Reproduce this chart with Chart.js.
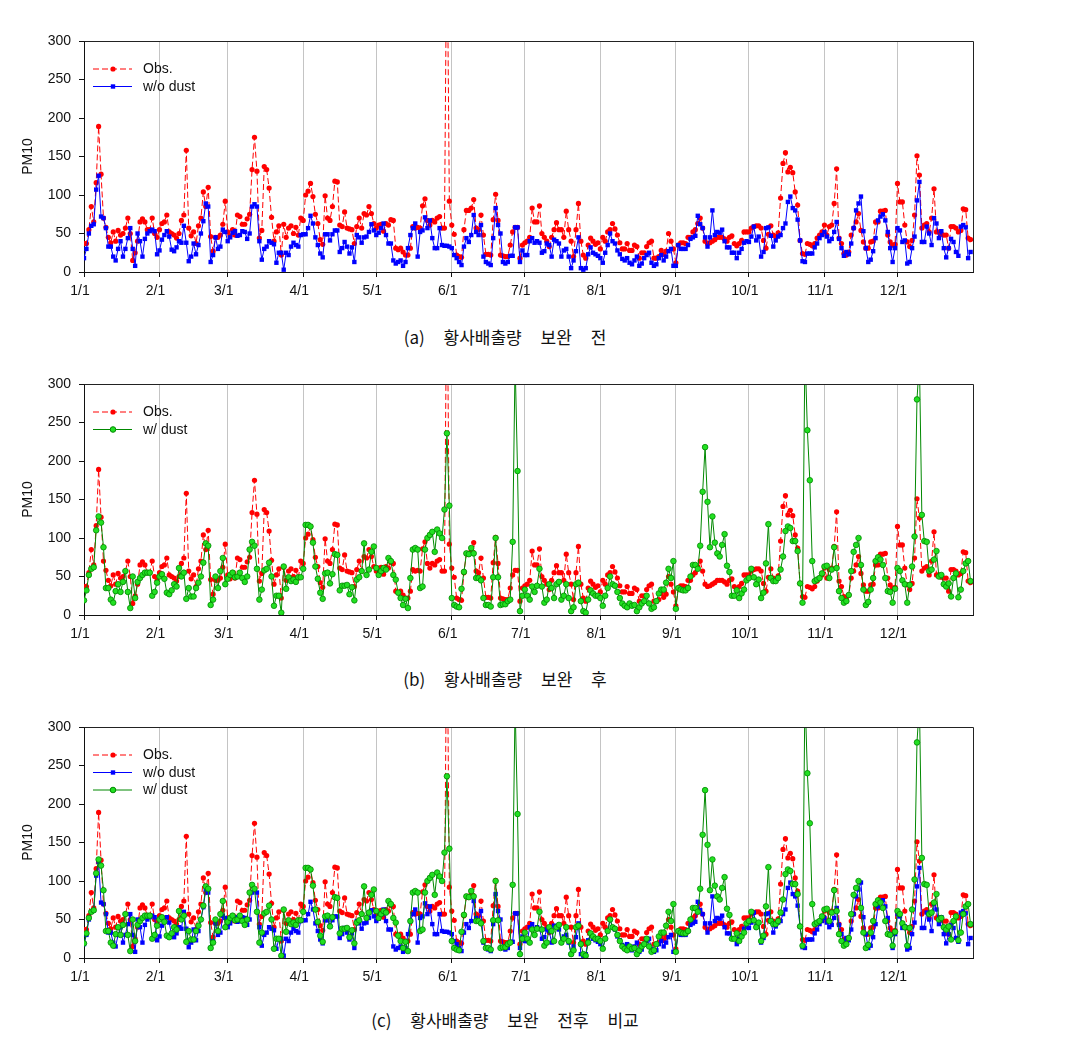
<!DOCTYPE html>
<html>
<head>
<meta charset="utf-8">
<script src="https://cdn.jsdelivr.net/npm/chart.js@4.4.1/dist/chart.umd.min.js"></script>
<style>
  body { margin: 0; background: #fff; width: 1070px; height: 1042px; position: relative; overflow: hidden; }
  canvas { position: absolute; left: 0; }
  .cap {
    position: absolute; left: 0; width: 1010px; text-align: center;
    font-family: "Noto Sans CJK KR", sans-serif; font-size: 17px; line-height: 20px;
    word-spacing: 15px; color: #111;
  }
</style>
</head>
<body>
<canvas id="chartA" width="1070" height="291" style="top:21px"></canvas>
<div class="cap" style="top:327px">(a) 황사배출량 보완 전</div>
<canvas id="chartB" width="1070" height="291" style="top:364px"></canvas>
<div class="cap" style="top:669px">(b) 황사배출량 보완 후</div>
<canvas id="chartC" width="1070" height="291" style="top:707px"></canvas>
<div class="cap" style="top:1010px">(c) 황사배출량 보완 전후 비교</div>

<script>
// x axis: day of year, ticks on the first of each month
const monthStarts = [0, 31, 59, 90, 120, 151, 181, 212, 243, 273, 304, 334];
const monthLabels = ['1/1', '2/1', '3/1', '4/1', '5/1', '6/1', '7/1', '8/1', '9/1', '10/1', '11/1', '12/1'];

// daily PM10, observed
const obs = [
  37,37,55,85,65,116,189,127,70,58,45,38,52,40,54,48,50,57,70,50,15,25,40,65,69,65,55,55,70,50,45,           // Jan
  55,63,65,74,52,50,48,44,50,67,74,158,57,47,52,37,60,70,104,85,110,46,27,45,45,48,62,92,                     // Feb
  52,47,55,48,74,72,62,62,69,75,133,175,131,44,54,137,133,109,71,40,52,60,22,62,45,57,60,50,58,48,70,         // Mar
  67,100,105,115,98,75,63,42,36,99,70,67,85,118,117,61,59,78,57,56,55,37,59,70,57,76,74,85,76,63,             // Apr
  57,61,62,53,63,61,68,67,31,29,31,26,22,22,31,59,57,58,57,86,95,67,61,67,65,70,72,57,57,470,92,              // May
  61,49,22,20,19,55,80,80,83,94,57,55,74,48,23,23,22,68,101,67,22,21,20,20,35,52,58,58,18,35,                 // Jun
  38,40,45,83,65,65,86,50,45,40,33,45,55,64,55,55,45,79,55,40,20,55,89,40,22,18,35,44,40,36,38,               // Jul
  30,45,40,52,55,63,56,48,38,30,30,37,28,28,35,33,18,25,25,33,38,40,18,18,20,28,23,27,50,40,30,               // Aug
  12,35,38,38,37,45,45,52,55,63,70,57,40,37,38,40,42,45,45,45,43,40,45,47,37,34,37,41,52,52,                  // Sep
  52,57,59,60,60,57,41,31,49,60,48,46,51,96,141,155,130,136,129,104,87,41,24,23,37,36,34,37,44,48,52,         // Oct
  61,48,59,61,89,134,44,37,24,22,26,48,57,65,76,54,39,31,31,39,40,65,65,79,79,80,48,39,35,36,                 // Nov
  115,91,91,61,39,33,41,74,151,126,57,61,63,52,70,108,52,52,49,48,48,31,59,59,57,52,54,82,81,44,42            // Dec
];

// model without dust emission
const woDust = [
  18,30,50,60,62,107,125,72,70,57,33,33,20,15,30,40,20,30,44,57,30,8,50,40,20,43,50,53,55,53,23,
  28,42,48,53,46,29,27,32,40,38,60,38,14,20,37,23,35,50,66,89,85,13,22,45,30,33,55,52,
  40,45,51,53,47,48,53,52,43,50,85,88,85,40,16,30,33,40,38,36,12,25,25,3,25,22,33,38,35,33,48,
  49,49,57,73,63,45,35,24,19,49,49,41,49,54,54,26,31,39,33,24,32,13,48,45,38,45,46,52,62,54,
  48,51,57,63,48,37,37,15,11,13,15,8,13,31,48,57,63,20,52,54,71,57,67,44,31,31,57,35,34,34,33,
  31,22,18,13,9,33,44,39,48,74,52,48,61,20,13,11,9,44,83,61,50,13,11,13,21,21,58,58,13,28,
  22,22,40,44,38,40,38,25,27,37,35,20,42,40,37,20,28,30,20,5,15,27,45,5,3,5,23,32,25,23,21,
  18,12,25,35,50,40,37,28,23,17,15,18,12,10,15,20,8,11,18,22,25,12,8,10,18,22,15,20,27,30,8,
  8,35,30,30,30,35,43,45,47,73,62,57,45,33,45,80,48,52,51,55,40,32,32,25,25,18,25,30,38,40,
  39,46,59,41,46,20,26,57,58,47,33,41,46,48,57,63,91,98,83,80,68,41,14,13,24,24,24,32,37,44,48,
  52,46,40,43,52,65,43,31,21,26,23,37,57,80,89,98,53,31,13,16,27,44,67,72,75,67,52,31,13,31,
  57,54,39,41,11,13,31,46,93,117,39,39,59,50,35,70,63,44,53,31,19,31,43,39,26,21,59,61,58,18,26
];

// model with dust emission
const wDust = [
  19,32,52,60,62,110,128,120,88,35,35,20,16,31,40,30,43,57,30,9,50,22,43,48,52,55,55,55,25,30,42,
  50,53,47,29,27,32,40,37,61,50,55,21,35,24,24,35,42,50,68,93,90,13,20,50,35,57,74,40,
  47,52,55,49,50,55,48,43,50,85,95,90,60,20,33,58,60,68,50,12,25,25,3,63,34,49,44,46,43,49,49,
  60,117,117,115,94,63,47,29,21,54,55,41,53,79,78,32,38,38,39,27,36,19,46,49,57,93,52,59,82,89,
  61,52,57,61,59,74,70,52,46,29,22,13,21,9,48,85,87,85,35,37,85,100,104,108,82,111,106,100,137,236,142,
  22,13,11,10,34,56,80,79,87,80,48,48,45,22,13,13,11,49,100,49,13,14,14,18,20,95,330,187,5,25,
  33,25,20,37,30,38,60,37,16,20,40,35,22,40,43,20,25,40,22,5,10,40,42,18,5,3,20,32,28,25,25,
  22,12,25,35,50,40,38,30,22,15,12,10,15,12,13,5,10,15,18,25,15,8,10,18,28,33,33,42,60,48,70,
  8,35,33,32,32,35,50,65,65,60,90,160,218,147,88,128,94,80,76,91,105,64,56,25,25,32,22,28,33,45,
  48,60,49,40,46,22,29,67,118,48,44,44,48,59,76,109,115,113,96,96,83,41,16,345,240,175,70,44,46,48,54,
  63,64,48,59,88,61,31,22,16,18,26,57,82,91,100,65,33,13,17,33,48,70,75,72,65,48,31,30,16,34,
  61,57,45,40,16,39,63,102,280,330,130,96,95,57,59,72,83,50,52,40,37,41,24,48,54,23,33,57,67,70,44
];

const days = obs.map((_, i) => i);

Chart.defaults.font.family = 'Arial, "Liberation Sans", sans-serif';
Chart.defaults.font.size = 14;
Chart.defaults.color = '#111';

const obsSet = () => ({
  label: 'Obs.', data: obs, order: 3,
  borderColor: '#ff0000', borderWidth: 1, borderDash: [6, 3],
  pointStyle: 'circle', pointRadius: 2.6, pointBorderWidth: 0,
  pointBackgroundColor: '#ff0000', pointBorderColor: '#ff0000'
});
const woSet = () => ({
  label: 'w/o dust', data: woDust, order: 2,
  borderColor: '#0000ff', borderWidth: 1,
  pointStyle: 'rect', pointRadius: 3.1, pointBorderWidth: 0,
  pointBackgroundColor: '#0000ff', pointBorderColor: '#0000ff'
});
const wSet = () => ({
  label: 'w/ dust', data: wDust, order: 1,
  borderColor: '#008800', borderWidth: 1,
  pointStyle: 'circle', pointRadius: 2.8, pointBorderWidth: 0.8,
  pointBackgroundColor: '#22e022', pointBorderColor: '#008800'
});

// legend drawn inside the plot, line + marker like the original
const insideLegend = {
  id: 'insideLegend',
  afterDraw(chart) {
    const { ctx, chartArea } = chart;
    ctx.save();
    chart.data.datasets.forEach((ds, i) => {
      const y = chartArea.top + 28 + i * 17.5;
      ctx.strokeStyle = ds.borderColor;
      ctx.lineWidth = 1;
      ctx.setLineDash(ds.borderDash || []);
      ctx.beginPath();
      ctx.moveTo(93, y);
      ctx.lineTo(132, y);
      ctx.stroke();
      ctx.setLineDash([]);
      ctx.fillStyle = ds.pointBackgroundColor;
      ctx.strokeStyle = ds.pointBorderColor;
      Chart.helpers.drawPoint(ctx, {
        pointStyle: ds.pointStyle, radius: ds.pointRadius, borderWidth: ds.pointBorderWidth, rotation: 0
      }, 113, y);
      ctx.fillStyle = '#111';
      ctx.font = '14px Arial, "Liberation Sans", sans-serif';
      ctx.textBaseline = 'middle';
      ctx.fillText(ds.label, 143, y + 0.5);
    });
    ctx.restore();
  }
};

// top and right frame lines
const frame = {
  id: 'frame',
  afterDraw(chart) {
    const { ctx, chartArea: a } = chart;
    ctx.save();
    ctx.strokeStyle = '#222';
    ctx.lineWidth = 1;
    ctx.beginPath();
    ctx.moveTo(Math.round(a.left) + 0.5, Math.round(a.top) + 0.5);
    ctx.lineTo(Math.round(a.right) + 0.5, Math.round(a.top) + 0.5);
    ctx.lineTo(Math.round(a.right) + 0.5, Math.round(a.bottom) + 0.5);
    ctx.stroke();
    ctx.restore();
  }
};

function makePanel(id, datasets) {
  new Chart(document.getElementById(id), {
    type: 'line',
    data: { labels: days, datasets },
    options: {
      responsive: false,
      animation: false,
      events: [],
      layout: { padding: { top: 20, right: 97, left: 0, bottom: 0 } },
      plugins: { legend: { display: false }, tooltip: { enabled: false } },
      elements: { line: { tension: 0 } },
      scales: {
        x: {
          type: 'linear', min: 0, max: 365,
          afterBuildTicks: s => { s.ticks = monthStarts.map(v => ({ value: v })); },
          afterFit: s => { s.height = 40; },
          ticks: {
            autoSkip: false, maxRotation: 0, padding: 6, labelOffset: -4, color: '#111',
            callback: (v, i) => monthLabels[i]
          },
          grid: {
            color: c => (c.tick && c.tick.value === 0 ? 'rgba(0,0,0,0)' : '#c4c4c4'),
            tickColor: '#111', tickLength: 5, lineWidth: 1
          },
          border: { color: '#111', width: 1 }
        },
        y: {
          min: 0, max: 300,
          afterFit: s => { s.width = 84; },
          ticks: { stepSize: 50, padding: 8, color: '#111' },
          grid: { drawOnChartArea: false, tickColor: '#111', tickLength: 5 },
          border: { color: '#111', width: 1 },
          title: { display: true, text: 'PM10', color: '#111', font: { size: 14 }, padding: { top: 20, bottom: 0 } }
        }
      }
    },
    plugins: [frame, insideLegend]
  });
}

makePanel('chartA', [obsSet(), woSet()]);
makePanel('chartB', [obsSet(), wSet()]);
makePanel('chartC', [obsSet(), woSet(), wSet()]);
</script>
</body>
</html>
